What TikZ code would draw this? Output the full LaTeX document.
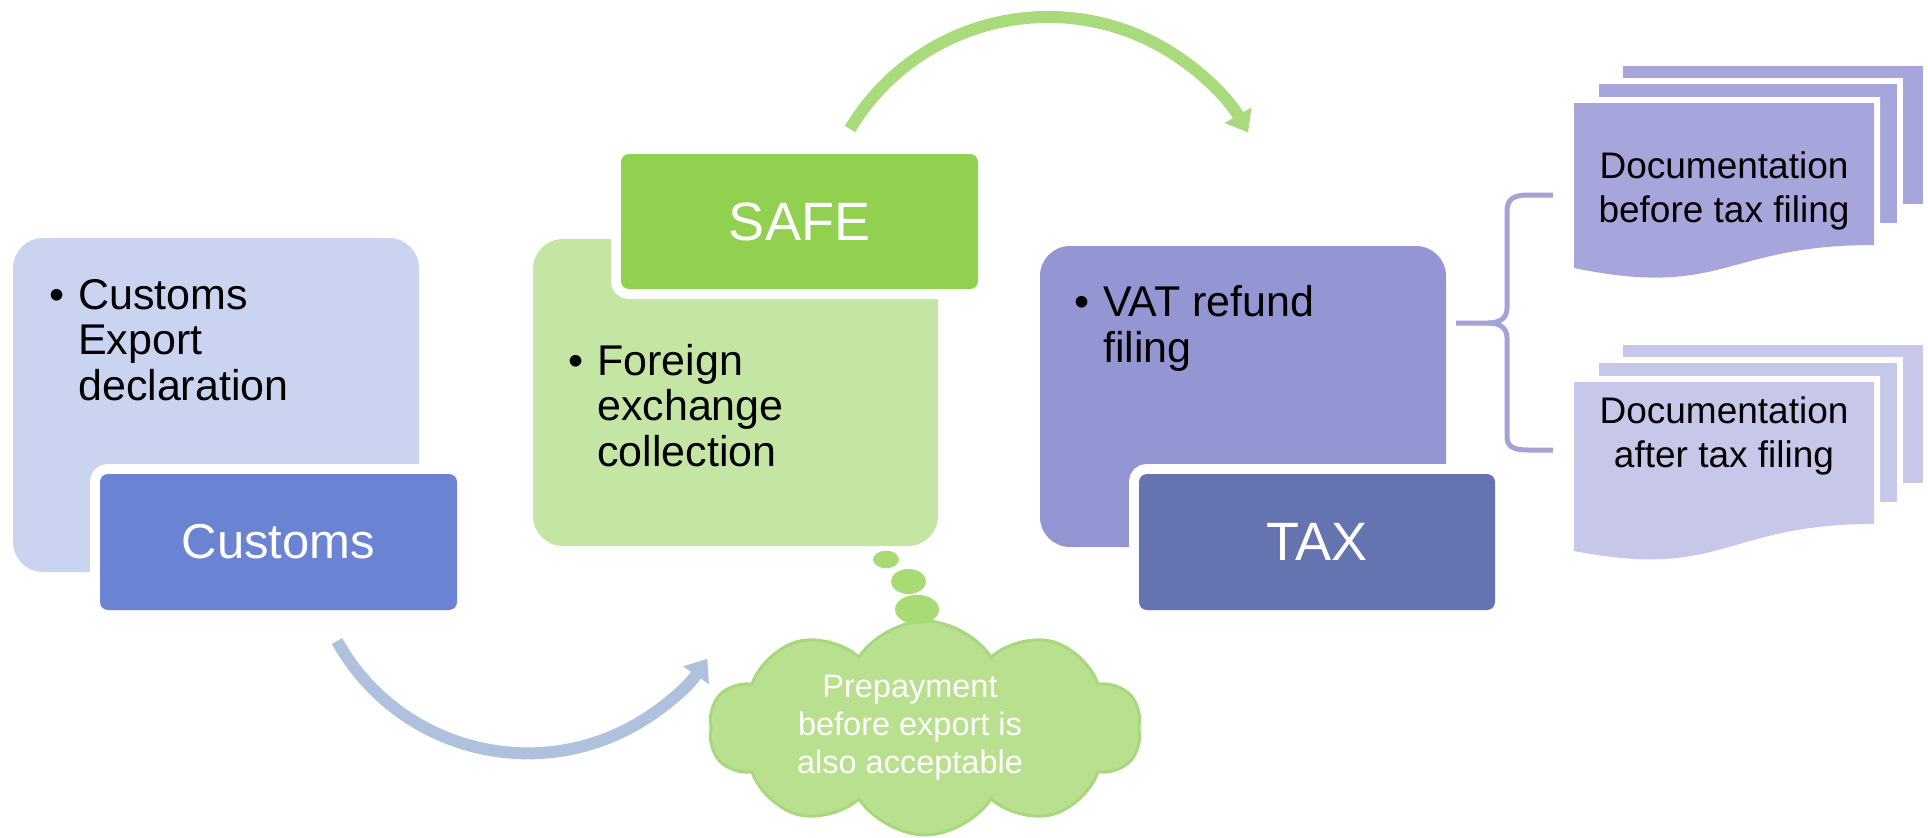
\documentclass[tikz,border=0pt]{standalone}
\usepackage{fontspec}
\setmainfont{Liberation Sans}
\usetikzlibrary{arrows.meta,shapes.symbols}

\definecolor{custLight}{HTML}{CAD4F0}
\definecolor{custDark}{HTML}{6A83D3}
\definecolor{safeLight}{HTML}{C4E5A3}
\definecolor{safeDark}{HTML}{92D050}
\definecolor{taxLight}{HTML}{9496D3}
\definecolor{taxDark}{HTML}{6574B1}
\definecolor{docA}{HTML}{A6A6DC}
\definecolor{docB}{HTML}{C7C7E9}
\definecolor{braceCol}{HTML}{A3A3D6}
\definecolor{arrowBlue}{HTML}{B0C1DD}
\definecolor{arrowGreen}{HTML}{A9DA7C}
\definecolor{cloudFill}{HTML}{B9E08E}
\definecolor{cloudEdge}{HTML}{A8D87C}
\definecolor{bubbleCol}{HTML}{A9DB74}

\begin{document}
\begin{tikzpicture}[x=1pt,y=-1pt,
  panel/.style={rectangle, rounded corners=30pt, inner sep=0pt, outer sep=0pt, anchor=north west},
  tabbox/.style={rectangle, rounded corners=8pt, inner sep=0pt, outer sep=0pt,
    preaction={draw=white, line width=20pt}, text=white},
  % multi-line nodes: the base anchor sits on the last line
  bullettext/.style={anchor=base west, inner sep=0pt, align=left,
    font=\fontsize{43}{45.5}\selectfont},
  doctext/.style={anchor=base, inner sep=0pt, align=center,
    font=\fontsize{37}{44}\selectfont},
  backpage/.style={preaction={draw=white, line width=12pt}},
  flowarrow/.style={line width=12pt, -{Triangle[width=30pt,length=20pt]}},
  bubble/.style={fill=bubbleCol}
]
\useasboundingbox (0,0) rectangle (1928,838);

% ---- Customs ----
\node[panel, fill=custLight, minimum width=406pt, minimum height=334pt] (custBody) at (13,238) {};
\node[bullettext] (custText) at (78,400)
  {\makebox[0pt][r]{\textbullet\hspace{14pt}}Customs\\Export\\declaration};
\node[tabbox, fill=custDark, anchor=north west, minimum width=357pt, minimum height=136pt,
  font=\fontsize{49}{55}\selectfont] (custTab) at (100,474) {Customs};

% ---- SAFE ----
\node[panel, fill=safeLight, minimum width=405pt, minimum height=307pt] (safeBody) at (533,239) {};
\node[bullettext] (safeText) at (597,466)
  {\makebox[0pt][r]{\textbullet\hspace{14pt}}Foreign\\exchange\\collection};
\node[tabbox, fill=safeDark, anchor=north west, minimum width=357pt, minimum height=135pt,
  font=\fontsize{54}{60}\selectfont] (safeTab) at (621,154) {SAFE};

% ---- TAX ----
\node[panel, fill=taxLight, minimum width=406pt, minimum height=301pt] (taxBody) at (1040,246) {};
\node[bullettext] (taxText) at (1103,362)
  {\makebox[0pt][r]{\textbullet\hspace{14pt}}VAT refund\\filing};
\node[tabbox, fill=taxDark, anchor=north west, minimum width=356pt, minimum height=136pt,
  font=\fontsize{54}{60}\selectfont] (taxTab) at (1139,474) {TAX};

% ---- flow arrows ----
\coordinate (arrowLowStart) at (337,641);
\draw[flowarrow, arrowBlue] (arrowLowStart) arc[start angle=151, end angle=34.5, radius=218];
\coordinate (arrowTopStart) at (850,129);
\draw[flowarrow, arrowGreen] (arrowTopStart) arc[start angle=-149, end angle=-30, radius=231];

% ---- thought cloud ----
\node[cloud, cloud puffs=10, cloud puff arc=115, aspect=2.1, fill=cloudFill, draw=cloudEdge,
  line width=3pt, minimum width=432pt, minimum height=214pt, inner sep=0pt] (cloud) at (925,728) {};
\fill[bubble] (917,609.5) ellipse[x radius=22, y radius=14.7];
\fill[bubble] (908.5,581.5) ellipse[x radius=17.5, y radius=12.5];
\fill[bubble] (886,559.5) ellipse[x radius=13, y radius=8.8];
\node[inner sep=0pt, align=center, anchor=base, text=white,
  font=\fontsize{32.5}{38}\selectfont] (cloudText) at (910,773)
  {Prepayment\\before export is\\also acceptable};

% ---- brace ----
\draw[braceCol, line width=5pt]
  (1553,195) -- (1528,195) .. controls (1512,195) and (1507,200) .. (1507,212)
  -- (1507,308) .. controls (1507,318) and (1500,323) .. (1488,323) -- (1456,323);
\draw[braceCol, line width=5pt]
  (1488,323) .. controls (1500,323) and (1507,328) .. (1507,338)
  -- (1507,436) .. controls (1507,446) and (1512,450) .. (1528,450) -- (1553,450);

% ---- document stack: before tax filing ----
\fill[docA, backpage] (1623,66) rectangle (1923,204);
\fill[docA, backpage] (1599,84) rectangle (1897,223);
\fill[docA, backpage] (1574,103) -- (1874,103) -- (1874,245)
  .. controls (1724,245) and (1724,299) .. (1574,268) -- cycle;
\node[doctext] (docBefore) at (1724,222) {Documentation\\before tax filing};

% ---- document stack: after tax filing ----
\fill[docB, backpage] (1623,345) rectangle (1923,483);
\fill[docB, backpage] (1599,363) rectangle (1897,502);
\fill[docB, backpage] (1574,382) -- (1874,382) -- (1874,524)
  .. controls (1724,524) and (1724,580) .. (1574,551) -- cycle;
\node[doctext] (docAfter) at (1724,467) {Documentation\\after tax filing};
\end{tikzpicture}
\end{document}
